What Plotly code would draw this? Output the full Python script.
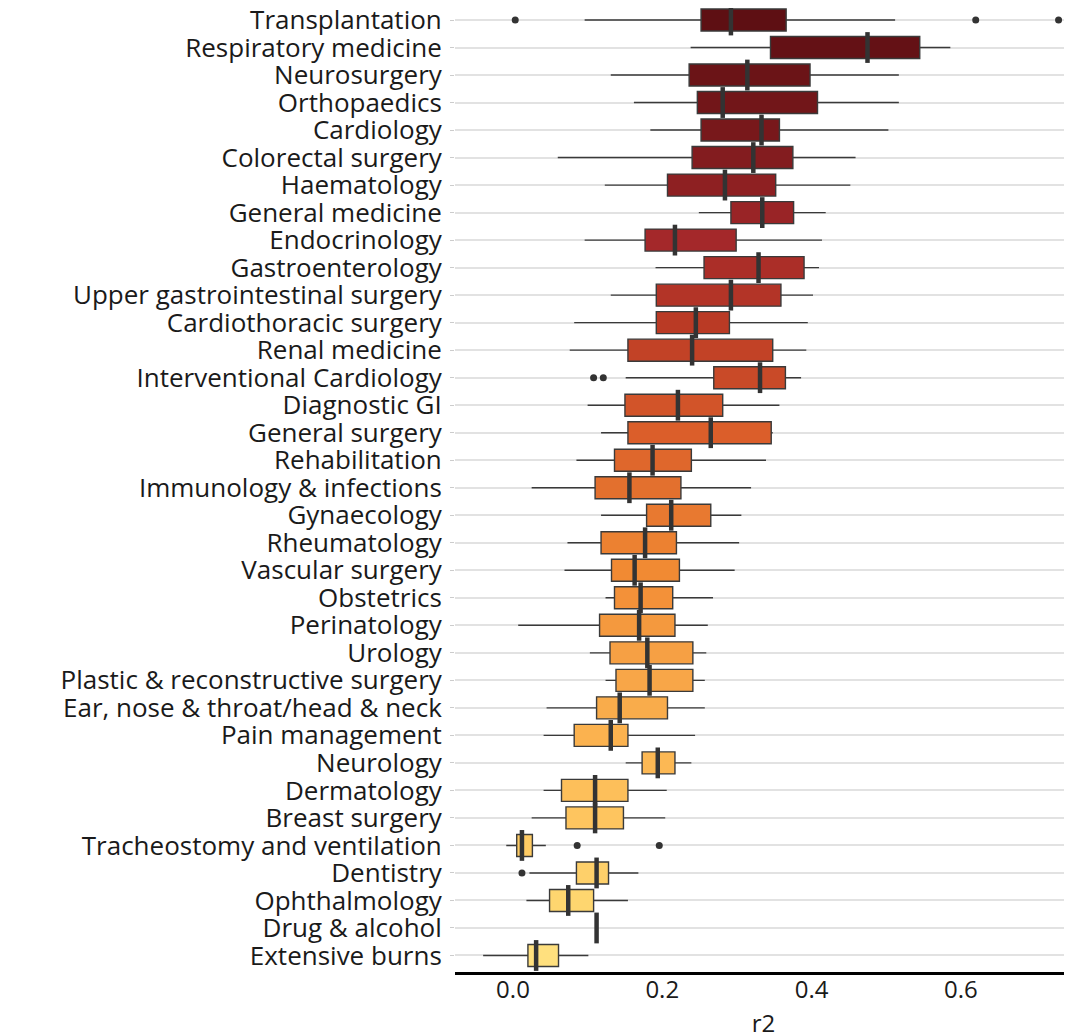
import plotly.graph_objects as go

# ---------------- data (top to bottom) ----------------
categories = [
    "Transplantation", "Respiratory medicine", "Neurosurgery", "Orthopaedics",
    "Cardiology", "Colorectal surgery", "Haematology", "General medicine",
    "Endocrinology", "Gastroenterology", "Upper gastrointestinal surgery",
    "Cardiothoracic surgery", "Renal medicine", "Interventional Cardiology",
    "Diagnostic GI", "General surgery", "Rehabilitation", "Immunology & infections",
    "Gynaecology", "Rheumatology", "Vascular surgery", "Obstetrics", "Perinatology",
    "Urology", "Plastic & reconstructive surgery", "Ear, nose & throat/head & neck",
    "Pain management", "Neurology", "Dermatology", "Breast surgery",
    "Tracheostomy and ventilation", "Dentistry", "Ophthalmology", "Drug & alcohol",
    "Extensive burns",
]
lower_whisker = [0.096, 0.238, 0.131, 0.162, 0.184, 0.060, 0.123, 0.249, 0.096,
                 0.191, 0.131, 0.082, 0.076, 0.151, 0.100, 0.118, 0.085, 0.025,
                 0.118, 0.073, 0.069, 0.124, 0.007, 0.103, 0.124, 0.045, 0.041,
                 0.151, 0.041, 0.025, -0.009, 0.022, 0.018, 0.112, -0.040]
q1 = [0.252, 0.345, 0.236, 0.247, 0.252, 0.240, 0.207, 0.292, 0.177,
      0.256, 0.192, 0.192, 0.154, 0.269, 0.150, 0.154, 0.136, 0.110,
      0.179, 0.118, 0.132, 0.136, 0.116, 0.130, 0.138, 0.112, 0.082,
      0.173, 0.065, 0.071, 0.005, 0.085, 0.049, 0.112, 0.020]
median = [0.292, 0.475, 0.314, 0.281, 0.333, 0.322, 0.284, 0.334, 0.217,
          0.329, 0.292, 0.245, 0.240, 0.331, 0.221, 0.265, 0.187, 0.156,
          0.212, 0.177, 0.163, 0.171, 0.169, 0.180, 0.183, 0.143, 0.131,
          0.194, 0.110, 0.110, 0.012, 0.112, 0.074, 0.112, 0.031]
q3 = [0.366, 0.545, 0.398, 0.408, 0.357, 0.375, 0.352, 0.376, 0.299,
      0.390, 0.359, 0.290, 0.348, 0.365, 0.281, 0.346, 0.239, 0.225,
      0.265, 0.219, 0.223, 0.214, 0.217, 0.241, 0.241, 0.207, 0.154,
      0.217, 0.154, 0.148, 0.026, 0.128, 0.108, 0.112, 0.061]
upper_whisker = [0.512, 0.586, 0.517, 0.517, 0.503, 0.459, 0.452, 0.419, 0.414,
                 0.410, 0.402, 0.395, 0.393, 0.386, 0.357, 0.348, 0.339, 0.319,
                 0.306, 0.303, 0.297, 0.268, 0.261, 0.259, 0.257, 0.257, 0.244,
                 0.239, 0.206, 0.204, 0.044, 0.168, 0.154, 0.112, 0.101]
outlier_category = ["Transplantation", "Transplantation", "Transplantation",
                    "Interventional Cardiology", "Interventional Cardiology",
                    "Tracheostomy and ventilation", "Tracheostomy and ventilation",
                    "Dentistry"]
outlier_value = [0.003, 0.620, 0.731, 0.108, 0.121, 0.086, 0.196, 0.012]
x_ticks = [0.0, 0.2, 0.4, 0.6]
x_tick_labels = ["0.0", "0.2", "0.4", "0.6"]

# ---------------- style ----------------
anchor_rows = [0, 4, 8, 11, 13, 15, 17, 20, 23, 26, 29, 32, 34]
anchor_hex = ["#5E0F13", "#78181B", "#A4282A", "#BA3A25", "#C94A28", "#DB5E2A",
              "#E3702E", "#F18A33", "#F6A044", "#FBB24F", "#FEC55F", "#FED66F",
              "#FFE07E"]


def hex_rgb(h):
    h = h.lstrip("#")
    return [int(h[i:i + 2], 16) for i in (0, 2, 4)]


def color_for(i):
    for k in range(len(anchor_rows) - 1):
        a, b = anchor_rows[k], anchor_rows[k + 1]
        if a <= i <= b:
            t = (i - a) / (b - a)
            ca, cb = hex_rgb(anchor_hex[k]), hex_rgb(anchor_hex[k + 1])
            c = [round(ca[j] + (cb[j] - ca[j]) * t) for j in range(3)]
            return "rgb({},{},{})".format(*c)
    return anchor_hex[-1]


FONT = "Open Sans"
fig = go.Figure()

for i, cat in enumerate(categories):
    fig.add_trace(go.Box(
        y=[cat], q1=[q1[i]], median=[median[i]], q3=[q3[i]],
        lowerfence=[lower_whisker[i]], upperfence=[upper_whisker[i]],
        orientation="h", fillcolor=color_for(i),
        line=dict(color="#3a3a3a", width=1.4),
        whiskerwidth=0, width=0.8, boxpoints=False, showlegend=False,
        hoverinfo="skip",
    ))

# thick median bars
fig.add_trace(go.Scatter(
    x=median, y=categories, mode="markers", showlegend=False, hoverinfo="skip",
    marker=dict(symbol="line-ns", size=22, line=dict(color="#333333", width=4.5)),
))

# outliers
fig.add_trace(go.Scatter(
    x=outlier_value, y=outlier_category, mode="markers", showlegend=False,
    hoverinfo="skip", marker=dict(symbol="circle", size=7, color="#333333"),
    cliponaxis=False,
))

# The page body adds an 8px offset, so the margins compensate for it.
fig.update_layout(
    width=1072, height=1033,
    margin=dict(l=447, r=8, t=0, b=69),
    paper_bgcolor="white", plot_bgcolor="white",
    font=dict(family=FONT, color="#1a1a1a"),
)
fig.update_xaxes(
    range=[-0.0777, 0.749], tickmode="array", tickvals=x_ticks,
    ticktext=x_tick_labels, automargin=False,
    showgrid=False, zeroline=False, showline=True, linecolor="black", linewidth=3,
    ticks="", tickfont=dict(family=FONT, size=24, color="#1a1a1a"),
    ticklabelstandoff=-6,
    title=dict(text="r2", font=dict(family=FONT, size=24, color="#1a1a1a"), standoff=12),
)
fig.update_yaxes(
    type="category", categoryorder="array", categoryarray=categories,
    tickmode="array", tickvals=categories, ticktext=categories, automargin=False,
    range=[34.6, -0.436], showgrid=True, gridcolor="#E2E2E2", gridwidth=1.5,
    zeroline=False, showline=False, ticks="outside", ticklen=4,
    tickcolor="#cccccc", tickwidth=1,
    tickfont=dict(family=FONT, size=26, color="#1a1a1a"), ticklabelstandoff=3,
)

fig.write_html("out.html")
